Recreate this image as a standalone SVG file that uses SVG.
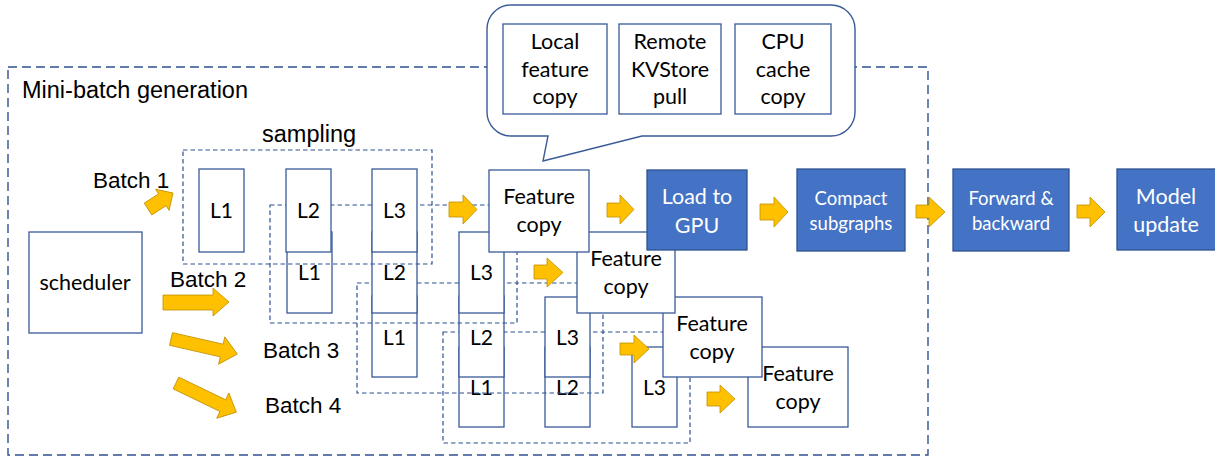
<svg xmlns="http://www.w3.org/2000/svg" width="1215" height="457" viewBox="0 0 1215 457">
<style>
  .outer { fill: none; stroke: #2F528F; stroke-width: 1.4; stroke-dasharray: 9 5; }
  .grp { fill: none; stroke: #2F528F; stroke-width: 1.2; stroke-dasharray: 4.5 3; }
  .box { fill: #FFFFFF; stroke: #3A5A98; stroke-width: 1.3; }
  .blue { fill: #4472C4; stroke: #2F528F; stroke-width: 1.3; }
  .arr { fill: #FFC000; stroke: #BF9000; stroke-width: 0.8; stroke-linejoin: miter; }
  .sans { font-family: "Liberation Sans", Arial, sans-serif; fill: #000000; }
  .cal { font-family: Lato, "Noto Sans", sans-serif; fill: #000000; text-anchor: middle; }
  .lab { font-size: 21px; }
  .fc { font-size: 21.5px; }
  .wt { fill: #FFFFFF; }
  .sm { font-size: 18.5px; }
</style>

<g id="minibatch-generation">
  <rect class="outer" x="8" y="67" width="920" height="388"/>
  <text class="sans" x="22" y="98" font-size="23.5">Mini-batch generation</text>
</g>

<g id="feature-copy-options">
  <path d="M 511 5 H 831 A 24 24 0 0 1 855 29 V 112 A 24 24 0 0 1 831 136 H 642 L 543 161 L 548 136 H 511 A 24 24 0 0 1 487 112 V 29 A 24 24 0 0 1 511 5 Z" fill="#FFFFFF" stroke="#3A5A98" stroke-width="1.4"/>
  <g id="local-feature-copy">
    <rect class="box" x="503" y="24" width="104" height="90"/>
    <text class="cal fc" x="555" y="49">Local</text>
    <text class="cal fc" x="555" y="77">feature</text>
    <text class="cal fc" x="555" y="104">copy</text>
  </g>
  <g id="remote-kvstore-pull">
    <rect class="box" x="619" y="24" width="102" height="90"/>
    <text class="cal fc" x="670" y="49">Remote</text>
    <text class="cal fc" x="670" y="77">KVStore</text>
    <text class="cal fc" x="670" y="104">pull</text>
  </g>
  <g id="cpu-cache-copy">
    <rect class="box" x="735" y="24" width="96" height="90"/>
    <text class="cal fc" x="783" y="49">CPU</text>
    <text class="cal fc" x="783" y="77">cache</text>
    <text class="cal fc" x="783" y="104">copy</text>
  </g>
</g>

<g id="scheduler">
  <rect class="box" x="29" y="232" width="113" height="101"/>
  <text class="cal fc" x="85" y="290">scheduler</text>
</g>

<g id="batch-4">
  <rect class="grp" x="443" y="332" width="247" height="111"/>
  <text class="sans" x="265" y="413" font-size="22.5">Batch 4</text>
  <rect class="box" x="459" y="347" width="45" height="80"/>
  <text class="cal lab" x="481.5" y="395">L1</text>
  <rect class="box" x="545" y="347" width="45" height="80"/>
  <text class="cal lab" x="567.5" y="395">L2</text>
  <rect class="box" x="632" y="347" width="45" height="80"/>
  <text class="cal lab" x="654.5" y="395">L3</text>
  <rect class="box" x="748" y="347" width="100" height="80"/>
  <text class="cal fc" x="798" y="381">Feature</text>
  <text class="cal fc" x="798" y="409">copy</text>
</g>

<g id="batch-3">
  <rect class="grp" x="357" y="283" width="246" height="110"/>
  <text class="sans" x="263" y="358" font-size="22.5">Batch 3</text>
  <rect class="box" x="372" y="296" width="45" height="81"/>
  <text class="cal lab" x="394.5" y="345">L1</text>
  <rect class="box" x="459" y="296" width="45" height="81"/>
  <text class="cal lab" x="481.5" y="345">L2</text>
  <rect class="box" x="545" y="297" width="45" height="80"/>
  <text class="cal lab" x="567.5" y="345">L3</text>
  <rect class="box" x="663" y="297" width="99" height="80"/>
  <text class="cal fc" x="712" y="331">Feature</text>
  <text class="cal fc" x="712" y="359">copy</text>
</g>

<g id="batch-2">
  <rect class="grp" x="270" y="205" width="247" height="118"/>
  <text class="sans" x="170" y="287" font-size="22.5">Batch 2</text>
  <rect class="box" x="287" y="232" width="45" height="81"/>
  <text class="cal lab" x="309.5" y="280">L1</text>
  <rect class="box" x="372" y="232" width="45" height="81"/>
  <text class="cal lab" x="394.5" y="280">L2</text>
  <rect class="box" x="459" y="232" width="45" height="81"/>
  <text class="cal lab" x="481.5" y="280">L3</text>
  <rect class="box" x="577" y="232" width="98" height="81"/>
  <text class="cal fc" x="626" y="266">Feature</text>
  <text class="cal fc" x="626" y="294">copy</text>
</g>

<g id="batch-1">
  <rect class="grp" x="183" y="150" width="249" height="114"/>
  <text class="sans" x="262" y="142" font-size="23.5">sampling</text>
  <text class="sans" x="93" y="188" font-size="22.5">Batch 1</text>
  <rect class="box" x="199" y="169" width="45" height="83"/>
  <text class="cal lab" x="221.5" y="218">L1</text>
  <rect class="box" x="286" y="169" width="45" height="83"/>
  <text class="cal lab" x="308.5" y="218">L2</text>
  <rect class="box" x="372" y="169" width="45" height="83"/>
  <text class="cal lab" x="394.5" y="218">L3</text>
  <rect class="box" x="489" y="170" width="100" height="82"/>
  <text class="cal fc" x="539" y="204">Feature</text>
  <text class="cal fc" x="539" y="232">copy</text>
</g>

<g id="load-to-gpu">
  <rect class="blue" x="647" y="170" width="100" height="80"/>
  <text class="cal fc wt" x="697" y="204">Load to</text>
  <text class="cal fc wt" x="697" y="233">GPU</text>
</g>
<g id="compact-subgraphs">
  <rect class="blue" x="797" y="169" width="108" height="82"/>
  <text class="cal sm wt" x="851" y="205">Compact</text>
  <text class="cal sm wt" x="851" y="230">subgraphs</text>
</g>
<g id="forward-backward">
  <rect class="blue" x="953" y="169" width="116" height="82"/>
  <text class="cal sm wt" x="1011" y="205">Forward &amp;</text>
  <text class="cal sm wt" x="1011" y="230">backward</text>
</g>
<g id="model-update">
  <rect class="blue" x="1117" y="169" width="102" height="81"/>
  <text class="cal fc wt" x="1166" y="204">Model</text>
  <text class="cal fc wt" x="1166" y="232">update</text>
</g>

<g id="connectors">
  <polygon class="arr" transform="translate(148,209) rotate(-32.6)" points="0,-7 17,-7 17,-12.5 29.7,0 17,12.5 17,7 0,7"/>
  <polygon class="arr" points="163,295 213,295 213,288 229,302 213,316 213,310 163,310"/>
  <polygon class="arr" transform="translate(171,339) rotate(12.8)" points="0,-6.5 52,-6.5 52,-14 68,0 52,14 52,6.5 0,6.5"/>
  <polygon class="arr" transform="translate(176,383) rotate(25.8)" points="0,-6.5 52,-6.5 52,-14 67,0 52,14 52,6.5 0,6.5"/>
  <polygon class="arr" points="449,202 463,202 463,195 477,209.5 463,224 463,217 449,217"/>
  <polygon class="arr" points="607,203 620,203 620,195 634,209.5 620,224 620,217 607,217"/>
  <polygon class="arr" points="760,204 774,204 774,197 788,212 774,227 774,220 760,220"/>
  <polygon class="arr" points="916,205 929,205 929,197 945,212 929,227 929,218 916,218"/>
  <polygon class="arr" points="1077,205 1090,205 1090,197 1105,212 1090,227 1090,218 1077,218"/>
  <polygon class="arr" points="534,265 547,265 547,258 563,272.5 547,287 547,279 534,279"/>
  <polygon class="arr" points="620,343 634,343 634,335 649,349 634,363 634,355 620,355"/>
  <polygon class="arr" points="707,392 720,392 720,385 735,399 720,413 720,406 707,406"/>
</g>
</svg>
